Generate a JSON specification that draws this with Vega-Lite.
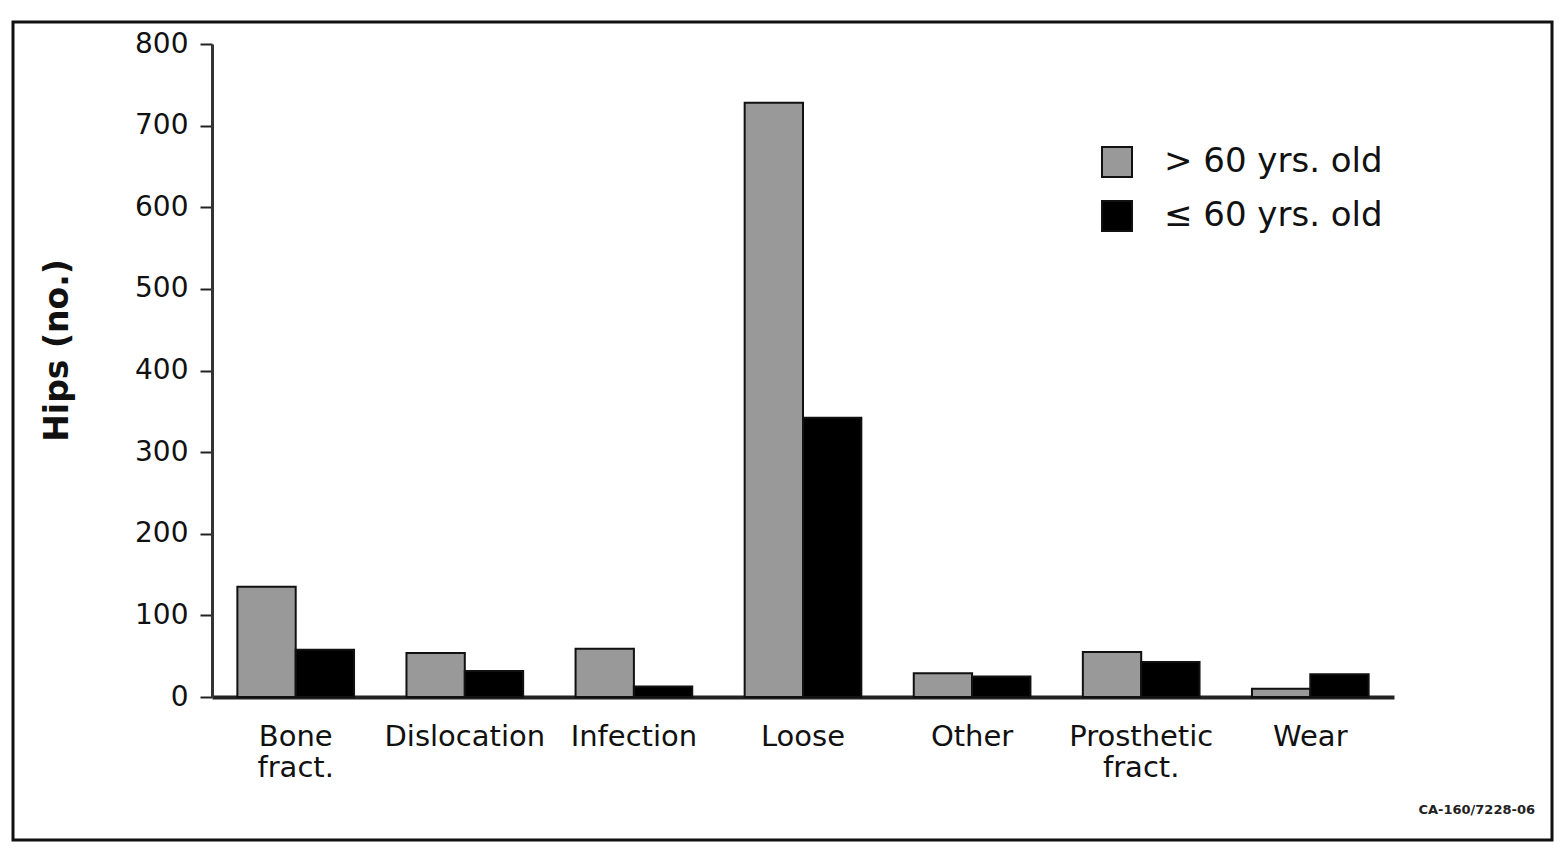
{
  "$schema": "https://vega.github.io/schema/vega-lite/v6.json",
  "width": 1539,
  "height": 818,
  "autosize": "none",
  "padding": {"left": 13, "top": 22, "right": 10, "bottom": 11},
  "background": "white",
  "config": {
    "view": {"stroke": "#111", "strokeWidth": 3},
    "font": "DejaVu Sans"
  },
  "title": {
    "text": "CA-160/7228-06",
    "orient": "bottom",
    "anchor": "end",
    "fontSize": 13,
    "fontWeight": "bold",
    "color": "#222",
    "offset": -36,
    "dx": -17
  },
  "data": {
    "values": [
      {"cause": "Bone fract.", "age": "> 60 yrs. old", "hips": 135},
      {"cause": "Bone fract.", "age": "≤ 60 yrs. old", "hips": 58},
      {"cause": "Dislocation", "age": "> 60 yrs. old", "hips": 54},
      {"cause": "Dislocation", "age": "≤ 60 yrs. old", "hips": 32},
      {"cause": "Infection", "age": "> 60 yrs. old", "hips": 59},
      {"cause": "Infection", "age": "≤ 60 yrs. old", "hips": 13},
      {"cause": "Loose", "age": "> 60 yrs. old", "hips": 728},
      {"cause": "Loose", "age": "≤ 60 yrs. old", "hips": 342},
      {"cause": "Other", "age": "> 60 yrs. old", "hips": 29},
      {"cause": "Other", "age": "≤ 60 yrs. old", "hips": 25},
      {"cause": "Prosthetic fract.", "age": "> 60 yrs. old", "hips": 55},
      {"cause": "Prosthetic fract.", "age": "≤ 60 yrs. old", "hips": 43},
      {"cause": "Wear", "age": "> 60 yrs. old", "hips": 10},
      {"cause": "Wear", "age": "≤ 60 yrs. old", "hips": 28}
    ]
  },
  "mark": {"type": "bar", "stroke": "#111", "strokeWidth": 2},
  "encoding": {
    "x": {
      "field": "cause",
      "type": "nominal",
      "sort": null,
      "scale": {"range": [199, 1381], "paddingInner": 0.31, "paddingOuter": 0.15},
      "axis": {
        "title": null,
        "offset": -143,
        "labelAngle": 0,
        "labelFontSize": 29,
        "labelColor": "#111",
        "labelPadding": 25,
        "labelLineHeight": 31,
        "labelExpr": "split(datum.value, ' ')",
        "ticks": false,
        "domainWidth": 4,
        "domainColor": "#222",
        "grid": false
      }
    },
    "xOffset": {
      "field": "age",
      "type": "nominal",
      "sort": ["> 60 yrs. old", "≤ 60 yrs. old"]
    },
    "y": {
      "field": "hips",
      "type": "quantitative",
      "scale": {"domain": [0, 800], "range": [675, 22]},
      "axis": {
        "title": "Hips (no.)",
        "titleFontSize": 33,
        "titleFontWeight": "bold",
        "titleColor": "#111",
        "titlePadding": 60,
        "titleY": 328,
        "offset": -199,
        "values": [0, 100, 200, 300, 400, 500, 600, 700, 800],
        "tickSize": 12,
        "tickWidth": 2,
        "tickColor": "#222",
        "domainWidth": 3,
        "domainColor": "#333",
        "labelFontSize": 28,
        "labelColor": "#111",
        "labelPadding": 12,
        "grid": false
      }
    },
    "color": {
      "field": "age",
      "type": "nominal",
      "scale": {"domain": ["> 60 yrs. old", "≤ 60 yrs. old"], "range": ["#999999", "#000000"]},
      "legend": {
        "title": null,
        "orient": "none",
        "legendX": 1087,
        "legendY": 123,
        "symbolType": "square",
        "symbolSize": 900,
        "symbolStrokeColor": "#111",
        "symbolStrokeWidth": 2,
        "labelFontSize": 34,
        "labelColor": "#111",
        "labelOffset": 30,
        "labelLimit": 500,
        "rowPadding": 16
      }
    }
  }
}
